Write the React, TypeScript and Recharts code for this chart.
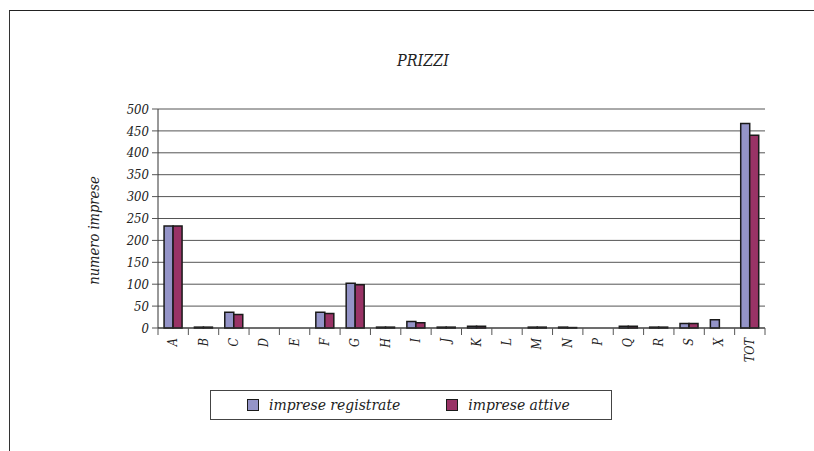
import React from 'react';
import { BarChart, Bar, XAxis, YAxis, CartesianGrid } from 'recharts';

const categories = ['A', 'B', 'C', 'D', 'E', 'F', 'G', 'H', 'I', 'J', 'K', 'L', 'M', 'N', 'P', 'Q', 'R', 'S', 'X', 'TOT'];
const impreseRegistrate = [233, 2, 36, 0, 0, 36, 102, 2, 15, 2, 4, 0, 2, 2, 0, 4, 2, 10, 19, 467];
const impreseAttive = [233, 2, 31, 0, 0, 33, 99, 2, 12, 2, 4, 0, 2, 1, 0, 4, 2, 10, 0, 440];
const yTicks = [0, 50, 100, 150, 200, 250, 300, 350, 400, 450, 500];

const data = categories.map((c, i) => ({
  cat: c,
  registrate: impreseRegistrate[i],
  attive: impreseAttive[i],
}));

const BLUE = '#9494c8';
const PLUM = '#993366';
const FONT = "'DejaVu Serif Condensed', 'DejaVu Serif', serif";

const W = 814;
const H = 451;
const margin = { top: 109, right: 49, bottom: 83, left: 88 };
const plotW = W - margin.left - 70 - margin.right;
const halfBand = plotW / categories.length / 2;

// labels rotated, tick marks sit between categories like the excel original
const XTick = (props: any) => {
  const { x, y, payload, index } = props;
  const last = index === categories.length - 1;
  return (
    <g>
      <line x1={x - halfBand} y1={y - 6} x2={x - halfBand} y2={y + 1} stroke="#555" />
      {last && <line x1={x + halfBand} y1={y - 6} x2={x + halfBand} y2={y + 1} stroke="#555" />}
      <text
        x={0}
        y={0}
        transform={`translate(${x + 4},${y + 4}) rotate(-90)`}
        textAnchor="end"
        style={{ fontSize: 12.5, fontStyle: 'italic', fontFamily: FONT, fill: '#222' }}
      >
        {payload.value}
      </text>
    </g>
  );
};

const YLabel = (props: any) => {
  const { viewBox } = props;
  const cx = viewBox.x + 6;
  const cy = viewBox.y + viewBox.height / 2 + 12;
  return (
    <text
      x={cx}
      y={cy}
      transform={`rotate(-90, ${cx}, ${cy})`}
      textAnchor="middle"
      dominantBaseline="central"
      style={{ fontSize: 14.5, fontStyle: 'italic', fontFamily: FONT, fill: '#222' }}
    >
      numero imprese
    </text>
  );
};

const App = () => {
  return (
    <div style={{ position: 'absolute', left: 0, top: 0, width: W, height: H, background: '#fff', fontFamily: FONT }}>
      <div style={{ position: 'absolute', left: 9, top: 10, right: 0, bottom: 0, borderTop: '1px solid #222', borderLeft: '1px solid #333' }} />
      <div style={{ position: 'absolute', left: 0, width: 846, top: 51, textAlign: 'center', fontSize: 16, fontStyle: 'italic', color: '#222' }}>
        PRIZZI
      </div>
      <BarChart
        width={W}
        height={H}
        data={data}
        margin={margin}
        barCategoryGap="20%"
        barGap={0}
        style={{ position: 'absolute', left: 0, top: 0, fontFamily: FONT }}
      >
        <CartesianGrid vertical={false} stroke="#555" />
        <XAxis
          dataKey="cat"
          interval={0}
          axisLine={{ stroke: '#333' }}
          tickLine={false}
          tick={<XTick />}
          height={40}
          tickMargin={0}
        />
        <YAxis
          domain={[0, 500]}
          ticks={yTicks}
          interval={0}
          width={70}
          axisLine={{ stroke: '#333' }}
          tickLine={{ stroke: '#555' }}
          tickSize={6}
          tickMargin={3}
          tick={{ fontSize: 13, fontStyle: 'italic', fontFamily: FONT, fill: '#222' }}
          label={{ content: <YLabel /> }}
        />
        <YAxis
          yAxisId="right"
          orientation="right"
          domain={[0, 500]}
          ticks={yTicks}
          interval={0}
          width={0}
          axisLine={{ stroke: '#999' }}
          tickLine={{ stroke: '#999' }}
          tickSize={2}
          tick={false}
        />
        <Bar dataKey="registrate" fill={BLUE} stroke="#1a1a1a" strokeWidth={1.5} isAnimationActive={false} />
        <Bar dataKey="attive" fill={PLUM} stroke="#1a1a1a" strokeWidth={1.5} isAnimationActive={false} />
      </BarChart>
      <div
        style={{
          position: 'absolute',
          left: 210,
          top: 390,
          width: 402,
          height: 30,
          border: '1px solid #444',
          boxSizing: 'border-box',
          display: 'flex',
          alignItems: 'center',
          fontSize: 15.5,
          fontStyle: 'italic',
          color: '#222',
        }}
      >
        <span style={{ width: 10, height: 10, background: BLUE, border: '1.5px solid #1a1a1a', marginLeft: 36, marginRight: 10 }} />
        <span>imprese registrate</span>
        <span style={{ width: 10, height: 10, background: PLUM, border: '1.5px solid #1a1a1a', marginLeft: 46, marginRight: 10 }} />
        <span>imprese attive</span>
      </div>
    </div>
  );
};

export default App;
